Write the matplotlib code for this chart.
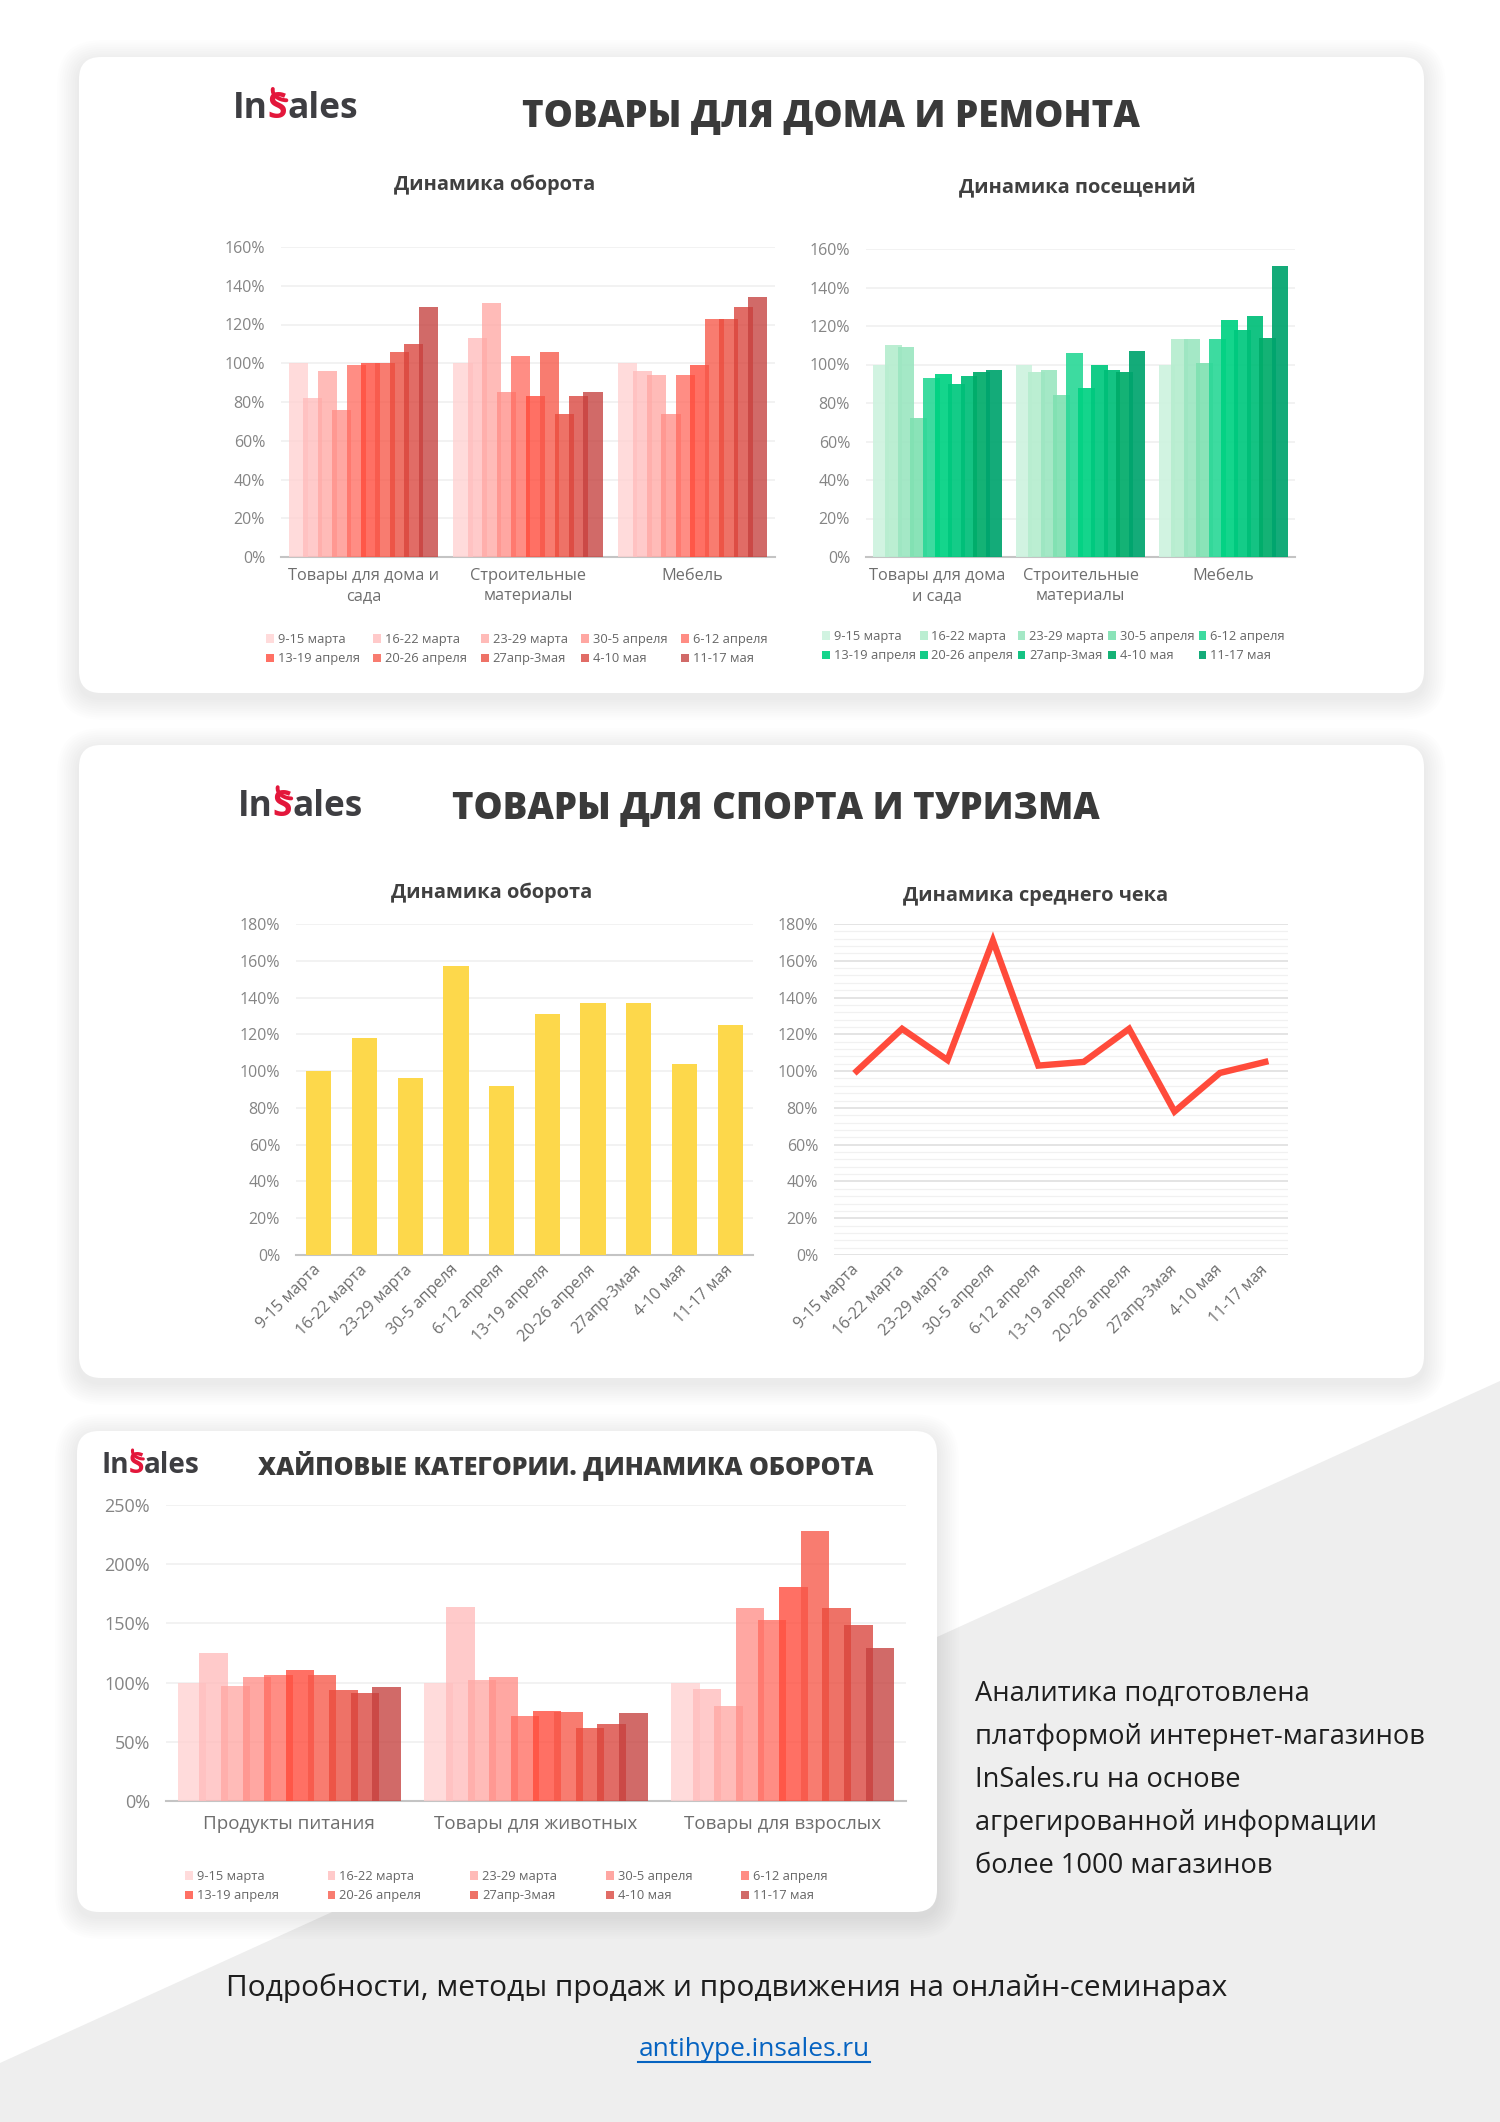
import matplotlib
matplotlib.use('Agg')
import matplotlib.pyplot as plt
from matplotlib.patches import FancyBboxPatch, Polygon, Patch, Arc
from matplotlib.ticker import MultipleLocator, FuncFormatter
import numpy as np

# ---------------- data ----------------
weeks = ['9-15 марта', '16-22 марта', '23-29 марта', '30-5 апреля', '6-12 апреля',
         '13-19 апреля', '20-26 апреля', '27апр-3мая', '4-10 мая', '11-17 мая']

home_turnover_categories = ['Товары для дома и\nсада', 'Строительные\nматериалы', 'Мебель']
home_visits_categories = ['Товары для дома\nи сада', 'Строительные\nматериалы', 'Мебель']

turnover_home_garden = [100, 82, 96, 76, 99, 100, 100, 106, 110, 129]
turnover_building = [100, 113, 131, 85, 104, 83, 106, 74, 83, 85]
turnover_furniture = [100, 96, 94, 74, 94, 99, 123, 123, 129, 134]

visits_home_garden = [100, 110, 109, 72, 93, 95, 90, 94, 96, 97]
visits_building = [100, 96, 97, 84, 106, 88, 100, 97, 96, 107]
visits_furniture = [100, 113, 113, 101, 113, 123, 118, 125, 114, 151]

sport_turnover = [100, 118, 96, 157, 92, 131, 137, 137, 104, 125]
sport_avg_check = [100, 123, 106, 171, 103, 105, 123, 78, 99, 105]

hype_categories = ['Продукты питания', 'Товары для животных', 'Товары для взрослых']
hype_food = [100, 125, 97, 105, 106, 111, 106, 94, 91, 96]
hype_pets = [100, 164, 102, 105, 72, 76, 75, 62, 65, 74]
hype_adult = [100, 95, 80, 163, 153, 181, 228, 163, 149, 129]

# ---------------- styles ----------------
red_colors = ['#FFDBDB', '#FFCACA', '#FFBBB8', '#FFA8A2', '#FF8D84',
              '#FF7064', '#F97C70', '#EF7267', '#E16C66', '#D26A68']
green_colors = ['#D1F3E2', '#BCEED3', '#A4E8C6', '#8AE3B8', '#3DDBA0',
                '#00D68C', '#00CC88', '#00C383', '#00B375', '#00AB7A']
yellow = '#FDD84B'
line_red = '#FF4B3B'

W, H = 1500, 2122
plt.rcParams['font.family'] = ['Open Sans', 'DejaVu Sans']

fig = plt.figure(figsize=(W / 100, H / 100), dpi=100)
bg = fig.add_axes([0, 0, 1, 1])
bg.set_xlim(0, W)
bg.set_ylim(H, 0)
bg.axis('off')
bg.set_zorder(0)

renderer = fig.canvas.get_renderer()

# background
bg.add_patch(Polygon([(0, 0), (W, 0), (W, H), (0, H)], closed=True, fc='white', lw=0))
bg.add_patch(Polygon([(W, 1381), (W, H), (0, H), (0, 2063)], closed=True, fc='#EEEEEE', lw=0))


def panel(x0, y0, x1, y1):
    for k in range(10):
        pad = 2 + k * 2.2
        bg.add_patch(FancyBboxPatch((x0, y0 + 5), x1 - x0, y1 - y0,
                                    boxstyle=f'round,pad={pad},rounding_size={22 + pad}',
                                    fc='black', alpha=0.009, lw=0))
    bg.add_patch(FancyBboxPatch((x0, y0), x1 - x0, y1 - y0,
                                boxstyle='round,pad=0,rounding_size=22', fc='white', lw=0))


panel(79, 57, 1424, 693)
panel(79, 745, 1424, 1378)
panel(77, 1431, 937, 1912)


def text_width(s, size, **kw):
    t = bg.text(0, 0, s, fontsize=size, **kw)
    w = t.get_window_extent(renderer).width
    t.remove()
    return w


def fit_size(s, target, **kw):
    return 20 * target / text_width(s, 20, **kw)


def fit_text(x, y, s, target, ha='center', **kw):
    size = fit_size(s, target, **kw)
    return bg.text(x, y, s, fontsize=size, ha=ha, va='baseline', **kw)


def logo(x0, baseline, width):
    kw = dict(weight='bold', family=['Open Sans', 'DejaVu Sans'])
    size = fit_size('InSales', width, **kw)
    cap = size * 100 / 72 * 0.714
    x = x0
    for part, col in (('In', '#3E3E42'), ('S', '#E3173B'), ('ales', '#3E3E42')):
        t = bg.text(x, baseline, part, fontsize=size, color=col, ha='left', va='baseline', **kw)
        w = t.get_window_extent(renderer).width
        if part == 'S':
            bg.add_patch(Arc((x + w * 1.0, baseline - cap * 1.1), w * 1.5, cap * 0.8,
                             theta1=95, theta2=185, color=col, lw=size * 0.11,
                             capstyle='round'))
        x += w


# headers
title_kw = dict(weight='heavy', color='#3A3A3A')
logo(233, 118, 125)
fit_text(831, 127, 'ТОВАРЫ ДЛЯ ДОМА И РЕМОНТА', 618, **title_kw)
logo(238, 816, 124)
fit_text(776, 819, 'ТОВАРЫ ДЛЯ СПОРТА И ТУРИЗМА', 646, **title_kw)
logo(101, 1473, 99)
fit_text(566, 1475, 'ХАЙПОВЫЕ КАТЕГОРИИ. ДИНАМИКА ОБОРОТА', 617, **title_kw)

sub_size = fit_size('Динамика оборота', 201, weight='bold')
for x, y, s in ((495, 190, 'Динамика оборота'), (1077, 193, 'Динамика посещений'),
                (492, 898, 'Динамика оборота'), (1036, 901, 'Динамика среднего чека')):
    bg.text(x, y, s, fontsize=sub_size, weight='bold', color='#404040', ha='center', va='baseline')

# right text + footer
info_lines = ['Аналитика подготовлена', 'платформой интернет-магазинов', 'InSales.ru на основе',
              'агрегированной информации', 'более 1000 магазинов']
info_size = fit_size(info_lines[1], 448)
for i, line in enumerate(info_lines):
    bg.text(975, 1701 + i * 43, line, fontsize=info_size, color='#1E1E1E', ha='left', va='baseline')

fit_text(727, 1996, 'Подробности, методы продаж и продвижения на онлайн-семинарах', 1000, color='#1E1E1E')
lk = fit_text(754, 2056, 'antihype.insales.ru', 231, color='#0563C1')
bb = lk.get_window_extent(renderer)
bg.plot([bb.x0, bb.x1], [2062, 2062], color='#0563C1', lw=1.5)


# ---------------- chart helpers ----------------
def add_ax(x0, y0, x1, y1):
    ax = fig.add_axes([x0 / W, 1 - y1 / H, (x1 - x0) / W, (y1 - y0) / H])
    ax.patch.set_alpha(0)
    return ax


def pct(v, p):
    return f'{v:.0f}%'


def style_axis(ax, ymax, ystep, ysize, xsize, xpad):
    ax.set_ylim(0, ymax)
    ax.yaxis.set_major_locator(MultipleLocator(ystep))
    ax.yaxis.set_major_formatter(FuncFormatter(pct))
    ax.grid(axis='y', color='#EFEFEF', lw=1.1)
    ax.set_axisbelow(True)
    for s in ('top', 'right', 'left'):
        ax.spines[s].set_visible(False)
    ax.spines['bottom'].set_color('#C4C4C4')
    ax.spines['bottom'].set_linewidth(1.5)
    ax.tick_params(axis='y', length=0, labelsize=ysize, labelcolor='#858585', pad=11.5)
    ax.tick_params(axis='x', length=0, labelsize=xsize, labelcolor='#6E6E6E', pad=xpad)


def alpha_color(hexc, alpha):
    c = np.array(matplotlib.colors.to_rgb(hexc))
    return tuple(np.clip(1 - (1 - c) / alpha, 0, 1))


def grouped_bars(ax, groups, colors, alpha):
    n = len(groups[0])
    step, width = 0.0877, 0.1158
    offsets = (np.arange(n) - (n - 1) / 2) * step
    xs = np.arange(len(groups))
    for i in range(n):
        vals = [g[i] for g in groups]
        ax.bar(xs + offsets[i], vals, width=width, color=alpha_color(colors[i], alpha),
               alpha=alpha, linewidth=0, zorder=3 + i)
    ax.set_xlim(-0.5, len(groups) - 0.5)
    ax.set_xticks(xs)


def week_legend(ax_fig_x, ax_fig_y, colors, alpha, colspacing):
    handles = [Patch(facecolor=alpha_color(c, alpha), alpha=alpha, lw=0) for c in colors]
    order = [0, 5, 1, 6, 2, 7, 3, 8, 4, 9]
    fig.legend([handles[i] for i in order], [weeks[i] for i in order],
               loc='upper left', bbox_to_anchor=(ax_fig_x / W, 1 - ax_fig_y / H),
               ncol=5, frameon=False, fontsize=9.3, labelcolor='#666666',
               handlelength=0.6, handleheight=0.6, handletextpad=0.3,
               columnspacing=colspacing, labelspacing=0.5, borderpad=0, borderaxespad=0)


# ---------------- panel 1 ----------------
ax1 = add_ax(281, 247, 775, 557)
grouped_bars(ax1, [turnover_home_garden, turnover_building, turnover_furniture], red_colors, 0.78)
style_axis(ax1, 160, 20, 11.5, 11.8, 8)
ax1.set_xticklabels(home_turnover_categories, linespacing=1.3)
week_legend(266, 633, red_colors, 0.78, 1.07)

ax2 = add_ax(866, 249, 1295, 557)
grouped_bars(ax2, [visits_home_garden, visits_building, visits_furniture], green_colors, 0.92)
style_axis(ax2, 160, 20, 11.5, 11.8, 8)
ax2.set_xticklabels(home_visits_categories, linespacing=1.3)
week_legend(822, 630, green_colors, 0.92, 0.32)

# ---------------- panel 2 ----------------
ax3 = add_ax(296, 924, 753, 1255)
xs = np.arange(len(weeks))
ax3.bar(xs, sport_turnover, width=0.55, color=yellow, linewidth=0, zorder=3)
ax3.set_xlim(-0.5, len(weeks) - 0.5)
style_axis(ax3, 180, 20, 11.5, 11.5, 9)
ax3.set_xticks(xs)
ax3.set_xticklabels(weeks, rotation=45, ha='right', va='center', rotation_mode='anchor')

ax4 = add_ax(834, 924, 1288, 1255)
ax4.plot(xs, sport_avg_check, color=line_red, lw=4.6, solid_joinstyle='miter', zorder=3)
ax4.set_xlim(-0.5, len(weeks) - 0.5)
style_axis(ax4, 180, 20, 11.5, 11.5, 9)
ax4.yaxis.set_minor_locator(MultipleLocator(4))
ax4.grid(axis='y', which='major', color='#E2E2E2', lw=1.3)
ax4.grid(axis='y', which='minor', color='#F1F1F1', lw=0.9)
ax4.tick_params(axis='y', which='minor', length=0)
ax4.spines['bottom'].set_visible(False)
ax4.set_xticks(xs)
ax4.set_xticklabels(weeks, rotation=45, ha='right', va='center', rotation_mode='anchor')

# ---------------- panel 3 ----------------
ax5 = add_ax(166, 1505, 906, 1801)
grouped_bars(ax5, [hype_food, hype_pets, hype_adult], red_colors, 0.78)
style_axis(ax5, 250, 50, 13, 13.5, 10)
ax5.set_xticklabels(hype_categories)
week_legend(185, 1870, red_colors, 0.78, 3.8)

fig.savefig('out.png', dpi=100)
